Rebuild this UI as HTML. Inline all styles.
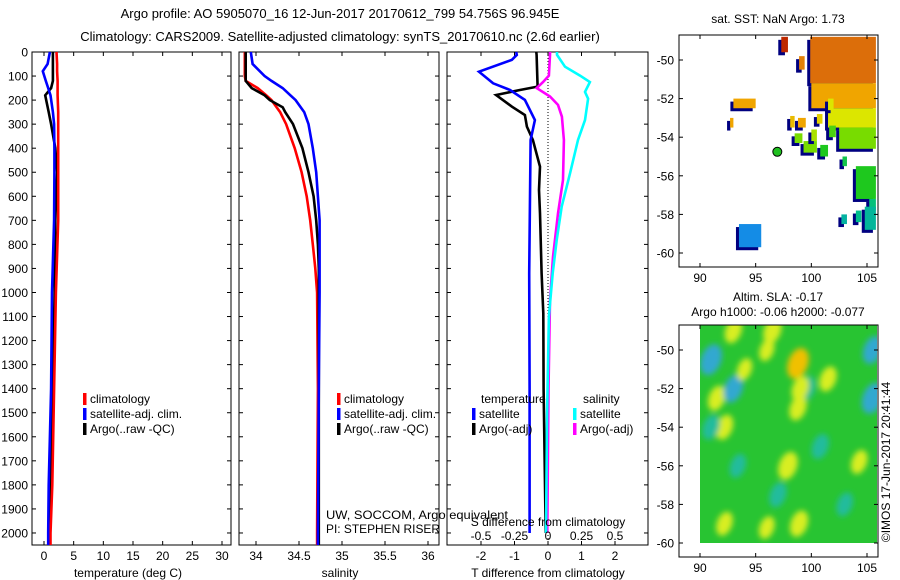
<!DOCTYPE html>
<html><head><meta charset="utf-8"><style>
html,body{margin:0;padding:0;background:#fff;}
svg{display:block;font-family:"Liberation Sans",sans-serif;}
text{font-size:12px;fill:#000;}
</style></head><body>
<svg id="c" width="900" height="580" viewBox="0 0 900 580" xmlns="http://www.w3.org/2000/svg">
<defs><filter id="bl" x="-50%" y="-50%" width="200%" height="200%"><feGaussianBlur stdDeviation="3"/></filter>
<clipPath id="slaclip"><rect x="700" y="325" width="177" height="218"/></clipPath></defs>
<text x="340" y="18" text-anchor="middle" style="font-size:13px">Argo profile: AO 5905070_16 12-Jun-2017 20170612_799 54.756S 96.945E</text>
<text x="340" y="41" text-anchor="middle" style="font-size:13px">Climatology: CARS2009. Satellite-adjusted climatology: synTS_20170610.nc (2.6d earlier)</text>
<g id="g"></g>
</svg>
<script>
const depthTicks=[0,100,200,300,400,500,600,700,800,900,1000,1100,1200,1300,1400,1500,1600,1700,1800,1900,2000];
// temperature panel
const tDepth=[0,50,80,120,150,180,250,300,400,500,700,1000,1400,1800,2000,2050];
const tClim=[2.1,2.2,2.2,2.3,2.3,2.3,2.4,2.4,2.4,2.4,2.4,2.0,1.7,1.4,1.1,1.1];
const tSat=[1.0,0.6,-0.2,0.3,0.7,1.1,1.5,1.7,1.75,1.75,1.7,1.35,1.2,0.8,0.7,0.7];
const tArgo=[1.5,1.5,1.5,1.5,1.2,0.2,0.8,1.2,1.9,2.2,1.9,1.8,1.4,1.1,0.95,0.95];
const tTicks=[0,5,10,15,20,25,30];
// salinity panel
const sDepth=[0,50,100,120,150,180,200,230,250,300,400,500,600,700,800,900,1000,1400,2000,2050];
const sClim=[33.87,33.87,33.87,33.88,34.02,34.12,34.18,34.24,34.28,34.35,34.45,34.53,34.59,34.63,34.66,34.69,34.71,34.72,34.71,34.71];
const sSat=[33.94,33.96,34.10,34.18,34.31,34.40,34.46,34.52,34.56,34.61,34.66,34.70,34.72,34.74,34.74,34.74,34.74,34.73,34.72,34.72];
const sArgo=[33.88,33.88,33.88,33.88,33.95,34.10,34.16,34.31,34.34,34.43,34.54,34.61,34.67,34.70,34.72,34.73,34.73,34.73,34.73,34.73];
const sTicks=[34,34.5,35,35.5,36];
// difference panel
const dtSatDepth=[0,12,33,82,130,158,199,283,366,643,920,1400,2000];
const dtSat=[-0.95,-0.93,-1.08,-2.06,-1.64,-1.13,-0.69,-0.39,-0.52,-0.54,-0.56,-0.55,-0.55];
const dtArgoDepth=[0,12,144,158,179,227,262,310,366,477,574,671,920,1086,1400,2000];
const dtArgo=[-0.35,-0.34,-0.31,-0.84,-1.55,-1.08,-0.69,-0.63,-0.45,-0.24,-0.27,-0.24,-0.19,-0.14,-0.13,-0.07];
const dsArgoDepth=[0,12,98,125,150,185,220,269,366,532,671,852,1032,1400,2000];
const dsArgo=[0.015,0.015,0.007,-0.037,-0.084,0.015,0.075,0.104,0.119,0.112,0.075,0.037,0.015,0.004,-0.005];
const dsSatDepth=[0,12,61,98,125,166,194,283,366,505,643,782,920,1100,1500,2000];
const dsSat=[0.067,0.067,0.127,0.239,0.313,0.276,0.299,0.276,0.224,0.164,0.102,0.065,0.035,0.007,-0.007,-0.015];
const dTTicks=[-2,-1,0,1,2];
const dSTicks=[-0.5,-0.25,0,0.25,0.5];
const dSTickLabels=["-0.5","-0.25","0","0.25","0.5"];
// maps
const lonTicks=[90,95,100,105];
const latTicks=[-50,-52,-54,-56,-58,-60];
const sstLon0=[97.3,99.9,98.9,100,101.5,102.5,93,92.7,98.1,98.8,100.5,101.5,98.5,99.3,100,100.8,101.6,102.8,104,105.2,102.7,104,104.8,93.5];
const sstLon1=[97.9,105.8,99.4,105.8,105.8,105.8,95,93,98.5,99.5,101,102,99.2,100.5,100.5,101.5,102.2,103.2,105.8,105.8,103.2,104.5,105.8,95.5];
const sstLatN=[-48.8,-48.8,-49.8,-51.2,-52.5,-53.5,-52,-53,-52.9,-53,-52.8,-52,-53.8,-54.2,-53.6,-54.4,-53.4,-55,-55.5,-57.2,-58,-57.8,-57.6,-58.5];
const sstLatS=[-49.6,-51.2,-50.5,-52.5,-53.5,-54.6,-52.5,-53.5,-53.5,-53.5,-53.3,-52.6,-54.3,-54.8,-54.2,-55,-54,-55.5,-57.2,-57.8,-58.5,-58.4,-58.8,-59.7];
const sstTemp=[9.5,8,7.5,6.5,5,4,6.5,6.5,6,6.5,5.5,5,4,4,4.5,3,3.5,2.5,3,2,1.5,1.8,1.6,0.5];
const argoLon=[96.945], argoLat=[-54.756];
const slaLon=[91,91.5,92.2,93,96.5,98.8,99.6,101.5,98.8,97.9,93,94,96,99,100.8,104.3,105.5,91,92.2,96,97,98.9,103,105.5,93.4];
const slaLat=[-50.5,-52.5,-54,-52,-49,-50.7,-52,-51.5,-53,-56,-49,-51,-50,-52,-55,-55.8,-52.5,-54,-59,-59.2,-57.5,-59,-58,-50,-56];
const slaVal=[-0.2,0.1,0.1,-0.15,0.12,0.2,-0.1,0.1,0.1,0.15,0.1,0.05,0.05,0.1,-0.1,0.08,-0.2,-0.1,0.08,0.06,-0.1,0.12,-0.08,-0.15,-0.08];

const NS="http://www.w3.org/2000/svg";
const G=document.getElementById('g');
function mk(tag,attrs,parent){const e=document.createElementNS(NS,tag);for(const k in attrs)e.setAttribute(k,attrs[k]);(parent||G).appendChild(e);return e;}
const Y0=52,Y1=545,DMAX=2050;
const yD=d=>Y0+d*(Y1-Y0)/DMAX;
function lin(d0,d1,r0,r1){return v=>r0+(v-d0)*(r1-r0)/(d1-d0);}
const xT=lin(0,30,44,222);
const xS=lin(34,36,256,428);
const xDT=lin(0,1,548,581.5);
const xDS=v=>xDT(v*4);

function panel(name,x0,x1,yLabels){
  const r=mk('rect',{x:x0,y:Y0,width:x1-x0,height:Y1-Y0,fill:'#fff',stroke:'#000','stroke-width':1});
  
  depthTicks.forEach(d=>{const y=yD(d);
    mk('line',{x1:x0,x2:x0+4,y1:y,y2:y,stroke:'#000'});mk('line',{x1:x1-4,x2:x1,y1:y,y2:y,stroke:'#000'});
    if(yLabels){const t=mk('text',{x:x0-4,y:y+4.5,'text-anchor':'end'});t.textContent=d;
      }
  });
}
function xticks(ticks,f,labels,ly){
  ticks.forEach((v,i)=>{const x=f(v);mk('line',{x1:x,x2:x,y1:Y1,y2:Y1-4,stroke:'#000'});mk('line',{x1:x,x2:x,y1:Y0,y2:Y0+4,stroke:'#000'});
    const t=mk('text',{x:x,y:ly,'text-anchor':'middle'});t.textContent=labels?labels[i]:v;
    });
}
function series(name,depths,vals,f,color,cw){
  const pts=depths.map((d,i)=>f(vals[i]).toFixed(1)+','+yD(d).toFixed(1)).join(' ');
  const p=mk('polyline',{points:pts,fill:'none',stroke:color,'stroke-width':cw||2.6,'stroke-linejoin':'miter'});
  
}
function label(txt,x,y,name,anchor,extra){const t=mk('text',Object.assign({x:x,y:y,'text-anchor':anchor||'start'},extra||{}));t.textContent=txt;
  return t;}
function legend(x,y,color,txt,name){const r=mk('rect',{x:x,y:y-10,width:3.5,height:12,fill:color});
  
  label(txt,x+7,y,name);}

// panel 1
panel('temperature-panel',32,231,true);
xticks(tTicks,xT,null,560);
series('temp-argo-line',tDepth,tArgo,xT,'#000');
series('temp-climatology-line',tDepth,tClim,xT,'#f00');
series('temp-satellite-line',tDepth,tSat,xT,'#00f');
label('temperature (deg C)',128,577,'x-axis-title-temperature','middle');
legend(83,403,'#f00','climatology','legend-climatology');
legend(83,418,'#00f','satellite-adj. clim.','legend-satellite');
legend(83,433,'#000','Argo(..raw -QC)','legend-argo');

// panel 2
panel('salinity-panel',239,439,false);
xticks(sTicks,xS,null,560);
series('sal-climatology-line',sDepth,sClim,xS,'#f00');
series('sal-argo-line',sDepth,sArgo,xS,'#000');
series('sal-satellite-line',sDepth,sSat,xS,'#00f');
label('salinity',340,577,'x-axis-title-salinity','middle');
legend(337,403,'#f00','climatology','legend-climatology-2');
legend(337,418,'#00f','satellite-adj. clim.','legend-satellite-2');
legend(337,433,'#000','Argo(..raw -QC)','legend-argo-2');

// panel 3
panel('difference-panel',447,648,false);
xticks(dTTicks,xDT,null,560);
const zl=mk('line',{x1:548,x2:548,y1:Y0,y2:Y1,stroke:'#000','stroke-dasharray':'1,2'});

series('dT-argo-line',dtArgoDepth,dtArgo,xDT,'#000');
series('dT-satellite-line',dtSatDepth,dtSat,xDT,'#00f');
series('dS-argo-line',dsArgoDepth,dsArgo,xDS,'#f0f');
series('dS-satellite-line',dsSatDepth,dsSat,xDS,'#0ff');
label('T difference from climatology',548,577,'x-axis-title-T-diff','middle');
label('S difference from climatology',548,526,'s-axis-title','middle');
dSTicks.forEach((v,i)=>label(dSTickLabels[i],xDS(v),540,'s-tick-label','middle'));
label('temperature',481,403,'legend-title-temperature');
label('salinity',583,403,'legend-title-salinity');
legend(472,418,'#00f','satellite','legend-t-satellite');
legend(472,433,'#000','Argo(-adj)','legend-t-argo');
legend(573,418,'#0ff','satellite','legend-s-satellite');
legend(573,433,'#f0f','Argo(-adj)','legend-s-argo');
label('UW, SOCCOM, Argo equivalent',326,519,'pi-institution','start',{textLength:182,lengthAdjust:'spacingAndGlyphs'});
label('PI: STEPHEN RISER',326,533,'pi-name','start',{textLength:114,lengthAdjust:'spacingAndGlyphs'});

// maps
const xLon=lin(90,105,700,867);
function mapAxes(name,top,bottom,latY){
  const r=mk('rect',{x:679,y:top,width:199,height:bottom-top,fill:'none',stroke:'#000'});
  
  latTicks.forEach(l=>{const y=latY(l);mk('line',{x1:679,x2:683,y1:y,y2:y,stroke:'#000'});mk('line',{x1:874,x2:878,y1:y,y2:y,stroke:'#000'});
    label(String(l),674,y+4.5,name+'-lat-label','end');});
  lonTicks.forEach(l=>{const x=xLon(l);mk('line',{x1:x,x2:x,y1:bottom,y2:bottom-4,stroke:'#000'});mk('line',{x1:x,x2:x,y1:top,y2:top+4,stroke:'#000'});
    label(String(l),x,bottom+15,name+'-lon-label','middle');});
}
const yLat1=lin(-50,-60,60,253);
function sstColor(t){const stops=[[0.5,[20,140,230]],[1.8,[0,190,140]],[3,[30,200,30]],[4,[120,220,0]],[5,[220,230,0]],[6.5,[240,165,0]],[8,[220,110,10]],[9.5,[190,40,0]]];
  if(t<=stops[0][0])return 'rgb('+stops[0][1]+')';
  for(let i=1;i<stops.length;i++){if(t<=stops[i][0]){const a=stops[i-1],b=stops[i],f=(t-a[0])/(b[0]-a[0]);
    return 'rgb('+a[1].map((c,k)=>Math.round(c+(b[1][k]-c)*f)).join(',')+')';}}
  return 'rgb('+stops[stops.length-1][1]+')';}
sstLon0.forEach((l0,i)=>{const x0=xLon(l0),x1=Math.min(xLon(sstLon1[i]),877),y0=yLat1(sstLatN[i]),y1=yLat1(sstLatS[i]);
  const sh=mk('rect',{x:x0-3,y:y0+3,width:x1-x0,height:y1-y0,fill:'#000080'});
  
  const c=mk('rect',{x:x0,y:y0,width:x1-x0,height:y1-y0,fill:sstColor(sstTemp[i])});
  });
mapAxes('sst-map',35,267,yLat1);
label('sat. SST: NaN Argo: 1.73',778,23,'sst-map-title','middle');
argoLon.forEach((lo,i)=>{const c=mk('circle',{cx:xLon(lo),cy:yLat1(argoLat[i]),r:4.5,fill:'#20c020',stroke:'#000','stroke-width':1});
  });

const yLat2=lin(-50,-60,350,543);
const bg=mk('rect',{x:700,y:325,width:177,height:218,fill:'#28c432'});

const sg=mk('g',{filter:'url(#bl)','clip-path':'url(#slaclip)'});
slaLon.forEach((lo,i)=>{const v=slaVal[i];const col=v>0.15?'#f0c000':v>0?'#d8ee20':v>-0.12?'#22bc9c':'#30a8d0';
  const e=mk('ellipse',{cx:xLon(lo),cy:yLat2(slaLat[i]),rx:6+Math.abs(v)*20,ry:10+Math.abs(v)*30,fill:col,transform:'rotate(20 '+xLon(lo)+' '+yLat2(slaLat[i])+')'},sg);
  });
mapAxes('sla-map',325,557,yLat2);
label('Altim. SLA: -0.17',778,301,'sla-map-title-1','middle');
label('Argo h1000: -0.06 h2000: -0.077',778,316,'sla-map-title-2','middle');
label('©IMOS 17-Jun-2017 20:41:44',0,0,'copyright-stamp','middle',{transform:'translate(890 462) rotate(-90)'});
</script>
</body></html>
